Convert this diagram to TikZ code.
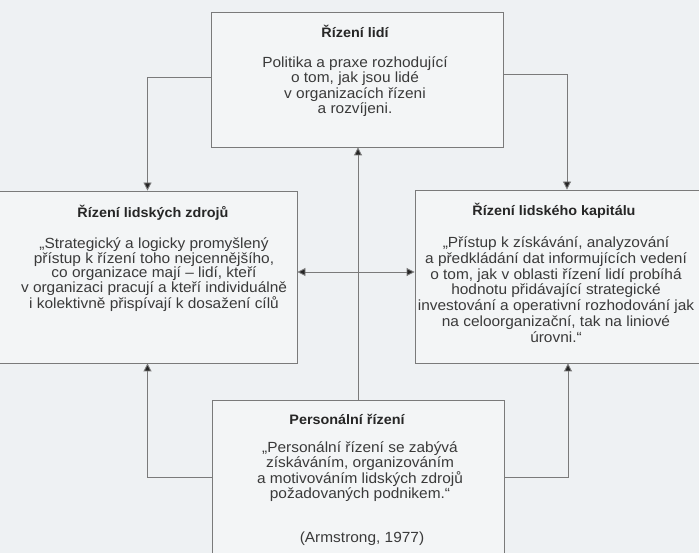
\documentclass[tikz,border=0pt]{standalone}
\usepackage{fontspec}
\setmainfont[FakeStretch=1.05]{Liberation Sans}
\usetikzlibrary{arrows.meta}
\definecolor{bg}{HTML}{EEF1F3}
\definecolor{boxfill}{HTML}{F3F5F6}
\definecolor{edge}{HTML}{7A7A7A}
\definecolor{ink}{HTML}{262626}
\definecolor{bodyink}{HTML}{3A3A3A}
\begin{document}
\begin{tikzpicture}[x=1pt,y=-1pt,
  box/.style={draw=edge, fill=boxfill, line width=0.9pt, inner sep=0pt, rectangle},
  ttl/.style={anchor=base, inner sep=0pt, text=ink, font=\bfseries\fontsize{13.7}{15}\selectfont},
  body/.style={anchor=base, inner sep=0pt, text=bodyink},
  conn/.style={draw=edge, line width=0.9pt, -{Triangle[width=8pt,length=8pt,fill=ink]}},
  dconn/.style={draw=edge, line width=0.9pt, {Triangle[width=8pt,length=8pt,fill=ink]}-{Triangle[width=8pt,length=8pt,fill=ink]}}]
\useasboundingbox (0,0) rectangle (699,553);
\clip (0,0) rectangle (699,553);
\fill[bg] (0,0) rectangle (699,553);

% boxes
\node[box, minimum width=292pt, minimum height=135pt] (top) at (357,79.5) {};
\node[box, minimum width=299pt, minimum height=172pt] (lbox) at (147.5,277) {};
\node[box, minimum width=290pt, minimum height=173pt] (rbox) at (560,276.5) {};
\node[box, minimum width=292pt, minimum height=165pt] (bot) at (358,482.5) {};

% texts
\node[ttl] (topT) at (355,37.5) {Řízení lidí};
\node[body, font=\fontsize{14.7}{15.5}\selectfont] (topB) at (355,67.5)
  {\begin{tabular}[t]{@{}c@{}}Politika a praxe rozhodující\\ o tom, jak jsou lidé\\ v organizacích řízeni\\ a rozvíjeni.\end{tabular}};

\node[ttl] (lT) at (153,217.5) {Řízení lidských zdrojů};
\node[body, font=\fontsize{14.7}{13}\selectfont] (lB) at (154,248.5)
  {\begin{tabular}[t]{@{}c@{}}„Strategický a logicky promyšlený\\ přístup k řízení toho nejcennějšího,\\ co organizace mají – lidí, kteří\\ v organizaci pracují a kteří individuálně\\ i kolektivně přispívají k dosažení cílů\end{tabular}};

\node[ttl] (rT) at (554,215.5) {Řízení lidského kapitálu};
\node[body, font=\fontsize{14.7}{15.8}\selectfont] (rB) at (556,247.5)
  {\begin{tabular}[t]{@{}c@{}}„Přístup k získávání, analyzování\\ a předkládání dat informujících vedení\\ o tom, jak v oblasti řízení lidí probíhá\\ hodnotu přidávající strategické\\ investování a operativní rozhodování jak\\ na celoorganizační, tak na liniové\\ úrovni.“\end{tabular}};

\node[ttl] (bT) at (347,424.5) {Personální řízení};
\node[body, font=\fontsize{14.7}{13.5}\selectfont] (bB) at (360,452.5)
  {\begin{tabular}[t]{@{}c@{}}„Personální řízení se zabývá\\ získáváním, organizováním\\ a motivováním lidských zdrojů\\ požadovaných podnikem.“\end{tabular}};
\node[body, font=\fontsize{14.7}{13.5}\selectfont] (bA) at (362,542.5) {(Armstrong, 1977)};

% connectors
\draw[conn] ([yshift=2.5pt]top.west) -| (lbox.north);
\draw[conn] ([yshift=5.5pt]top.east) -| ([xshift=7pt]rbox.north);
\draw[conn] ([yshift=5.5pt]bot.west) -| (lbox.south);
\draw[conn] ([yshift=5.5pt]bot.east) -| ([xshift=8pt]rbox.south);
\draw[conn] (bot.north) -- (bot.north |- top.south);
\draw[dconn] ([yshift=5pt]lbox.east) -- ([yshift=5pt]lbox.east -| rbox.west);
\end{tikzpicture}
\end{document}
